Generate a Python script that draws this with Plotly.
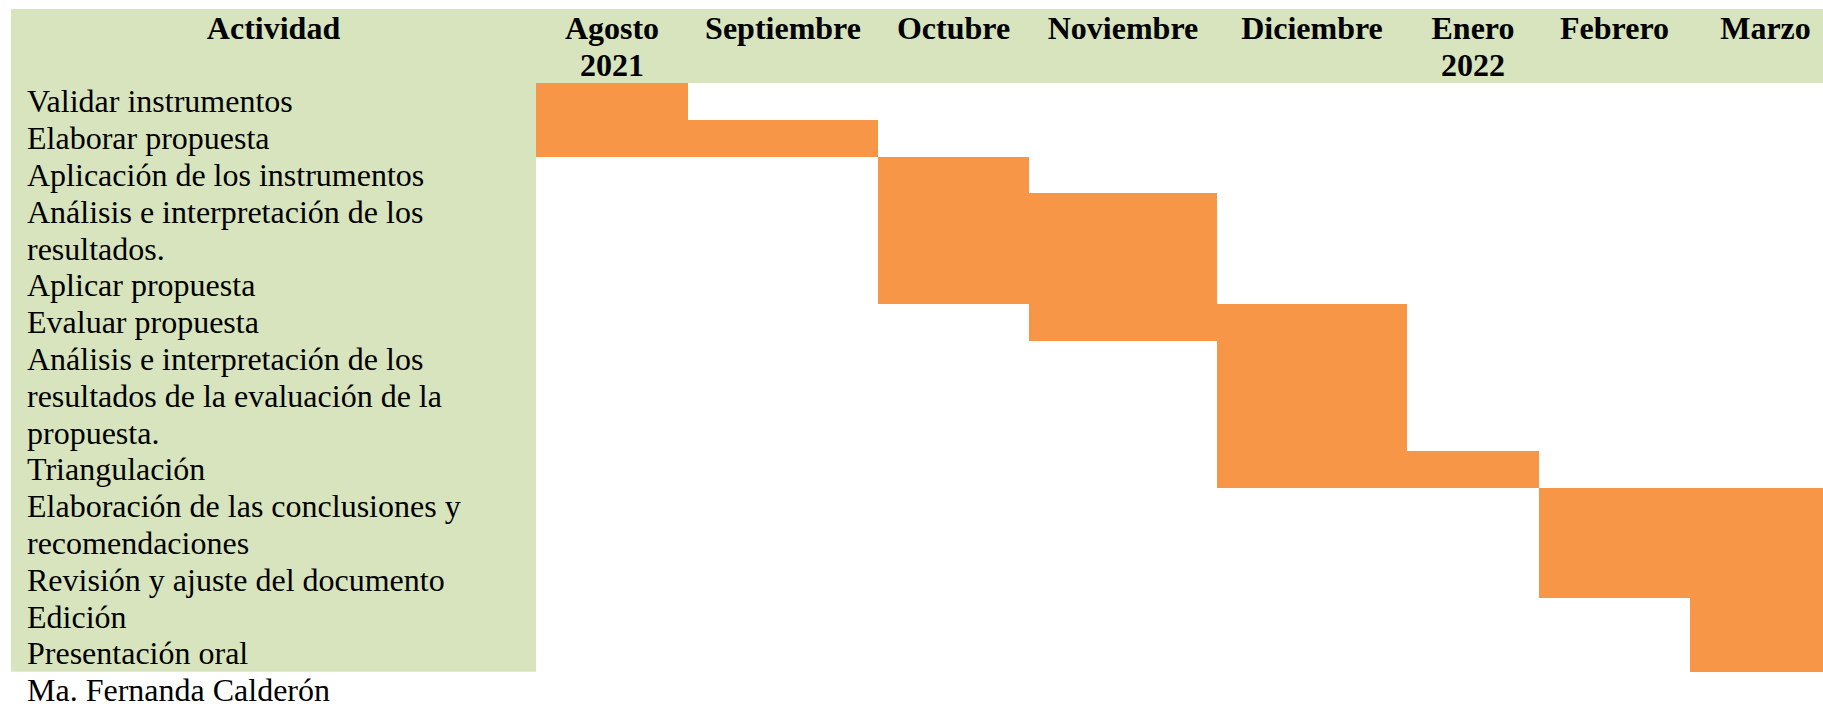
import plotly.graph_objects as go

# ---------------- data ----------------
months = ["Agosto", "Septiembre", "Octubre", "Noviembre", "Diciembre", "Enero", "Febrero", "Marzo"]
month_years = ["2021", "", "", "", "", "2022", "", ""]

activities = [
    ["Validar instrumentos"],
    ["Elaborar propuesta"],
    ["Aplicación de los instrumentos"],
    ["Análisis e interpretación de los", "resultados."],
    ["Aplicar propuesta"],
    ["Evaluar propuesta"],
    ["Análisis e interpretación de los", "resultados de la evaluación de la", "propuesta."],
    ["Triangulación"],
    ["Elaboración de las conclusiones y", "recomendaciones"],
    ["Revisión y ajuste del documento"],
    ["Edición"],
    ["Presentación oral"],
]
# first and last month index (inclusive) of each activity
start_month = [0, 0, 2, 2, 2, 3, 4, 4, 6, 6, 7, 7]
end_month = [0, 1, 2, 3, 3, 4, 4, 5, 7, 7, 7, 7]

header_title = "Actividad"
footer = "Ma. Fernanda Calderón"

# ---------------- layout constants (pixels) ----------------
W, H = 1823, 704
LINE_H = 36.8
BODY_TOP = 83
HEADER_TOP = 9
TABLE_LEFT = 11
TEXT_X = 27
COL_EDGES = [536, 688, 878, 1029, 1217, 1407, 1539, 1690, 1841]
GREEN = "#D7E4BD"
ORANGE = "#F79646"
FONT = "Liberation Serif, Times New Roman, serif"
FS = 32
TEXT_DY = 3.0          # plotly centers text at 0.25em; shift to typographic middle
HEAD_LINE1 = 31.3
HEAD_LINE2 = 68.0

# row geometry from line counts
row_top = []
acc = 0
for lines in activities:
    row_top.append(BODY_TOP + acc * LINE_H)
    acc += len(lines)
body_bottom = BODY_TOP + acc * LINE_H

fig = go.Figure()

# bars
bar_y, bar_w, bar_base, bar_len = [], [], [], []
for i, lines in enumerate(activities):
    h = len(lines) * LINE_H
    bar_y.append(row_top[i] + h / 2)
    bar_w.append(h)
    x0 = COL_EDGES[start_month[i]]
    x1 = COL_EDGES[end_month[i] + 1]
    bar_base.append(x0)
    bar_len.append(x1 - x0)

fig.add_trace(go.Bar(
    orientation="h", y=bar_y, x=bar_len, base=bar_base, width=bar_w,
    marker=dict(color=ORANGE, line=dict(width=0)),
    hoverinfo="skip", showlegend=False,
))

# activity text lines
tx, ty, tt = [], [], []
for i, lines in enumerate(activities):
    for j, ln in enumerate(lines):
        tx.append(TEXT_X)
        ty.append(row_top[i] + (j + 0.5) * LINE_H + TEXT_DY)
        tt.append(ln)
tx.append(TEXT_X)
ty.append(body_bottom + 0.5 * LINE_H + TEXT_DY)
tt.append(footer)
fig.add_trace(go.Scatter(
    x=tx, y=ty, text=tt, mode="text", textposition="middle right",
    textfont=dict(family=FONT, size=FS, color="black"),
    hoverinfo="skip", showlegend=False, cliponaxis=False,
))

# header text
hx, hy, ht = [], [], []
hx.append((TABLE_LEFT + COL_EDGES[0]) / 2)
hy.append(HEAD_LINE1)
ht.append("<b>" + header_title + "</b>")
for k, m in enumerate(months):
    cx = (COL_EDGES[k] + COL_EDGES[k + 1]) / 2
    hx.append(cx)
    hy.append(HEAD_LINE1)
    ht.append("<b>" + m + "</b>")
    if month_years[k]:
        hx.append(cx)
        hy.append(HEAD_LINE2)
        ht.append("<b>" + month_years[k] + "</b>")
fig.add_trace(go.Scatter(
    x=hx, y=hy, text=ht, mode="text", textposition="middle center",
    textfont=dict(family=FONT, size=FS, color="black"),
    hoverinfo="skip", showlegend=False, cliponaxis=False,
))

# green backgrounds
fig.add_shape(type="rect", x0=TABLE_LEFT, x1=W + 20, y0=HEADER_TOP, y1=BODY_TOP,
              fillcolor=GREEN, line=dict(width=0), layer="below")
fig.add_shape(type="rect", x0=TABLE_LEFT, x1=COL_EDGES[0], y0=BODY_TOP, y1=body_bottom,
              fillcolor=GREEN, line=dict(width=0), layer="below")

fig.update_layout(
    width=W, height=H, autosize=False,
    margin=dict(l=0, r=0, t=0, b=0, pad=0),
    paper_bgcolor="white", plot_bgcolor="white",
    xaxis=dict(range=[0, W], visible=False, fixedrange=True),
    yaxis=dict(range=[H, 0], visible=False, fixedrange=True),
    bargap=0, showlegend=False,
)

fig.write_html(
    "out.html",
    config={"displayModeBar": False},
    post_script="document.body.style.margin='0';document.body.style.overflow='hidden';",
)
